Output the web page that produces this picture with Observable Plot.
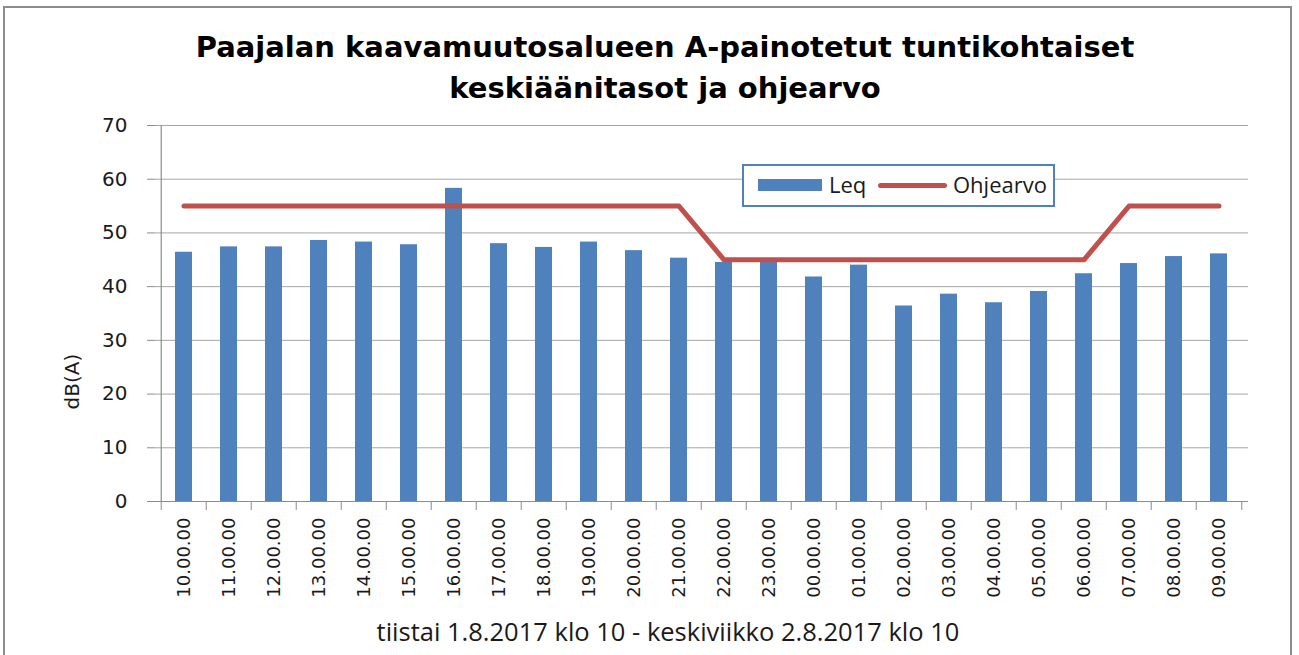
<!DOCTYPE html>
<html>
<head>
<meta charset="utf-8">
<script src="https://cdn.jsdelivr.net/npm/d3@7"></script>
<script src="https://cdn.jsdelivr.net/npm/@observablehq/plot@0.6"></script>
<style>
  html, body { margin: 0; padding: 0; background: #ffffff; }
  #wrap { position: relative; width: 1299px; height: 655px; overflow: hidden; background: #fff; }
  #border { position: absolute; left: 3px; top: 6px; width: 1289px; height: 700px; border: 2.5px solid #8c8c8c; box-sizing: border-box; }
  #title { position: absolute; left: 30px; width: 1270px; top: 27px; text-align: center;
           font-family: "DejaVu Sans", sans-serif; font-weight: bold; font-size: 29px; line-height: 41px; color: #000; }
  #chart { position: absolute; left: 0; top: 110px; }
  #legend { position: absolute; left: 742px; top: 164px; width: 313px; height: 43px; box-sizing: border-box;
            border: 2px solid #4f81bd; background: #fff; font-family: "Open Sans", sans-serif; font-size: 22px; color: #1a1a1a; }
  .sw-bar { position: absolute; left: 14px; top: 13px; width: 64px; height: 12px; background: #4f81bd; }
  .sw-line { position: absolute; left: 134px; top: 17px; width: 69px; height: 5px; border-radius: 3px; background: #c0504d; }
  .lt { position: absolute; top: 3px; line-height: 30px; }
  #caption { position: absolute; left: 68px; width: 1200px; top: 614px; text-align: center;
             font-family: "Open Sans", sans-serif; font-size: 25.5px; color: #1a1a1a; line-height: 34px; }
</style>
</head>
<body>
<div id="wrap">
  <div id="border"></div>
  <div id="title"></div>
  <div id="chart"></div>
  <div id="legend"></div>
  <div id="caption"></div>
</div>
<script>
const titleLines = ["Paajalan kaavamuutosalueen A-painotetut tuntikohtaiset", "keskiäänitasot ja ohjearvo"];
const yLabel = "dB(A)";
const caption = "tiistai 1.8.2017 klo 10 - keskiviikko 2.8.2017 klo 10";
const seriesNames = ["Leq", "Ohjearvo"];

const hours = ["10.00.00","11.00.00","12.00.00","13.00.00","14.00.00","15.00.00","16.00.00","17.00.00",
               "18.00.00","19.00.00","20.00.00","21.00.00","22.00.00","23.00.00","00.00.00","01.00.00",
               "02.00.00","03.00.00","04.00.00","05.00.00","06.00.00","07.00.00","08.00.00","09.00.00"];
const leq = [46.4, 47.4, 47.4, 48.6, 48.3, 47.8, 58.3, 48.0, 47.3, 48.3, 46.7, 45.3,
             44.5, 45.0, 41.8, 44.0, 36.4, 38.6, 37.0, 39.1, 42.4, 44.3, 45.6, 46.1];
const ohjearvo = [55, 55, 55, 55, 55, 55, 55, 55, 55, 55, 55, 55,
                  45, 45, 45, 45, 45, 45, 45, 45, 45, 55, 55, 55];
const yTicks = [0, 10, 20, 30, 40, 50, 60, 70];

const data = hours.map((h, i) => ({hour: h, leq: leq[i], ohje: ohjearvo[i]}));

document.getElementById("title").innerHTML = titleLines.join("<br>");
document.getElementById("caption").textContent = caption;
document.getElementById("legend").innerHTML =
  `<div class="sw-bar"></div><div class="lt" style="left:85px">${seriesNames[0]}</div>` +
  `<div class="sw-line"></div><div class="lt" style="left:209px">${seriesNames[1]}</div>`;

const W = 1299, H = 545, ml = 155, mr = 51, mt = 15, mb = 154;
const step = (W - ml - mr) / hours.length;
const axisColor = "#8c8c8c";
const textColor = "#1a1a1a";

const chart = Plot.plot({
  width: W, height: H,
  marginLeft: ml, marginRight: mr, marginTop: mt, marginBottom: mb,
  style: {background: "transparent", overflow: "visible"},
  x: {domain: hours, paddingInner: 0.62, paddingOuter: 0.31, label: null},
  y: {domain: [0, 70], label: null},
  marks: [
    Plot.gridY(yTicks, {stroke: "#a6a6a6", strokeOpacity: 1, strokeWidth: 1}),
    Plot.barY(data, {x: "hour", y: "leq", fill: "#4f81bd"}),
    Plot.lineY(data, {x: "hour", y: "ohje", stroke: "#c0504d", strokeWidth: 5,
                      strokeLinecap: "round", strokeLinejoin: "round"}),
    Plot.ruleY([0], {stroke: axisColor, strokeWidth: 1.2}),
    Plot.ruleX([hours[0]], {dx: -step / 2, stroke: axisColor, strokeWidth: 1.2}),
    Plot.axisY({ticks: yTicks, tickSize: 8, tickPadding: 20, stroke: axisColor, strokeOpacity: 1,
                fontSize: 20, fontFamily: "DejaVu Sans, sans-serif", fill: textColor, label: null}),
    Plot.axisX({tickSize: 9, tickFormat: () => "", dx: -step / 2, stroke: axisColor, strokeOpacity: 1, label: null}),
    Plot.axisX({ticks: [hours[hours.length - 1]], tickSize: 9, tickFormat: () => "", dx: step / 2,
                stroke: axisColor, strokeOpacity: 1, label: null}),
    Plot.axisX({tickSize: 0, tickPadding: 16, tickRotate: -90, fontSize: 18,
                fontFamily: "DejaVu Sans, sans-serif", fill: textColor, label: null}),
    Plot.text([yLabel], {frameAnchor: "left", dx: -83, dy: 96, rotate: -90, fontSize: 20,
                         fontFamily: "DejaVu Sans, sans-serif", fill: textColor})
  ]
});
document.getElementById("chart").appendChild(chart);
</script>
</body>
</html>
